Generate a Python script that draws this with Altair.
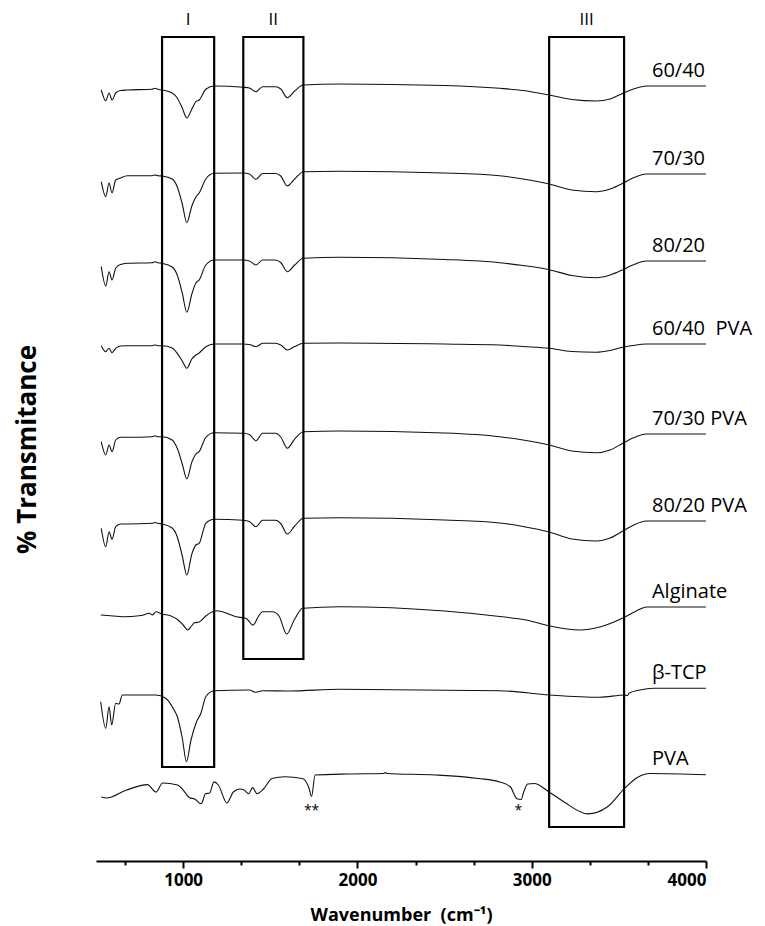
import altair as alt
import pandas as pd

# ---- FTIR spectra of the scaffolds, stacked with a vertical offset (a.u.) ----
SERIES = ["60/40", "70/30", "80/20", "60/40\u00a0\u00a0PVA", "70/30 PVA", "80/20 PVA",
          "Alginate", "β-TCP", "PVA"]
OFFSETS = [775, 687, 600, 517, 427, 340, 254, 173, 87]

# wavenumber grid (cm-1) shared by the six composite scaffolds
WN_COMPOSITE = [530, 556, 575, 592, 613, 640, 680, 822, 838, 855, 880, 937, 966, 995,
                1021, 1050, 1073, 1092, 1130, 1178, 1345, 1380, 1418, 1456, 1530, 1560,
                1598, 1640, 1690, 1900, 2500, 2816, 2950, 3100, 3230, 3371, 3450, 3523,
                3580, 3659, 4000]

# absorption depth below each trace's high-wavenumber plateau (a.u.)
DEPTH_60_40 = [4, 14.7, 7, 14, 7, 4.5, 4, 3.3, 2.3, 3.3, 4, 7, 12, 22, 32, 23, 15.7, 14,
               3.3, 0, 1.3, 2, 5.7, 0.7, 0.7, 3, 11.7, 5, -1, -2, -0.5, 2.3, 4.5, 9, 13.5,
               15, 13, 7.3, 3.3, 0, 0]
DEPTH_70_30 = [7.7, 22.7, 9, 19, 6, 4, 1.7, 1.7, 1, 1.7, 2, 5, 12.7, 30, 48.7, 32, 23, 19,
               5, -0.7, -1, 0, 5.3, -0.5, -0.5, 2, 12, 5, -2.3, -2.7, -1, 1.7, 5, 10, 16,
               17.7, 15, 9.3, 4, 0, 0]
DEPTH_80_20 = [5.7, 25, 10.7, 19, 7.3, 3.5, 2.3, 1.7, 0.7, 1.7, 2.3, 6, 14, 32, 51.3, 33,
               22, 19, 4, -1, -1, 0, 4, -1, -1, 1.5, 10.7, 4, -2.7, -3.7, -1.5, 1.7, 4.5,
               8.7, 14.5, 16.7, 14, 8.7, 4, 0, 0]
DEPTH_60_40_PVA = [1.7, 7.7, 4.3, 8.7, 4.3, 2, 1.7, 1.7, 1, 1.7, 1.7, 4, 9.3, 17, 24.3, 15,
                   11, 9, 2.7, 0, 0, 0.5, 2.7, -0.7, -0.7, 1, 6, 2.5, -0.7, -1, 0, 1, 2.5,
                   4.3, 7.5, 8.3, 6.5, 3.3, 1.5, 0, 0]
DEPTH_70_30_PVA = [7.7, 21, 11, 17.7, 6, 3.3, 3.3, 2.7, 1.7, 2.7, 2.7, 6, 14.3, 30, 45, 28,
                   20, 17.7, 3.3, -1.3, -0.7, 0.5, 6.7, -0.7, -0.7, 3, 14.3, 5, -2.3, -3,
                   -1, 2.7, 6, 11, 17, 18.7, 16, 9.3, 4, 0, 0]
DEPTH_80_20_PVA = [7.3, 25.7, 10.7, 18.3, 5.7, 3, 3, 2.3, 1.5, 2.3, 3, 7, 15.7, 35, 54, 33,
                   24, 22.3, 2.3, -1.7, -0.7, 0.5, 5.7, -0.7, -0.7, 2.5, 13, 5, -2.7, -3.3,
                   -1, 2, 5.5, 11, 18, 20, 17, 10, 4.5, 0, 0]

WN_ALGINATE = [527, 600, 651, 760, 805, 824, 843, 879, 930, 966, 1000, 1027, 1048, 1065,
               1092, 1130, 1188, 1226, 1303, 1360, 1402, 1430, 1456, 1513, 1550, 1594, 1640,
               1686, 1900, 2500, 2816, 2969, 3103, 3276, 3391, 3523, 3600, 3659, 4000]
DEPTH_ALGINATE = [8, 9, 9.7, 8.5, 6.3, 8, 4.7, 7, 9, 12.3, 18, 23, 19, 15.7, 15, 9, 3.7,
                  4.7, 9.7, 11.3, 18, 10, 4.7, 4.7, 9, 27, 12, 1.3, -0.3, 4, 9.5, 13, 19,
                  23, 20, 11, 4, 0, 0]

WN_TCP = [527, 556, 575, 590, 613, 632, 651, 843, 900, 948, 967, 995, 1019, 1045, 1077,
          1102, 1130, 1178, 1380, 1418, 1456, 1610, 1900, 2816, 3103, 3391, 3534, 3548,
          3560, 3620, 3700, 4000]
DEPTH_TCP = [13.7, 40.3, 18.7, 37, 15.3, 16, 7, 7, 10.3, 22, 28.7, 50, 73.7, 52, 33.7,
             25.3, 8.7, 2.7, 2, 4.3, 2.7, 3, 1.3, 2.7, 7, 9.3, 7, 7.6, 5, 2, 0.3, 0.3]

WN_PVA = [530, 560, 672, 795, 845, 882, 968, 990, 1037, 1066, 1104, 1128, 1152, 1177,
          1202, 1251, 1288, 1325, 1350, 1375, 1399, 1424, 1461, 1510, 1584, 1683, 1720,
          1737, 1757, 1950, 2150, 2160, 2170, 2447, 2693, 2817, 2878, 2915, 2940, 2952,
          2977, 3014, 3100, 3186, 3322, 3433, 3532, 3606, 3680, 4000]
DEPTH_PVA = [23, 24, 16.3, 10.6, 18, 9, 11, 14, 23.7, 25, 29.8, 19.7, 19, 7.9, 11, 29, 18,
             15, 16, 19.7, 13.6, 19.7, 15, 4.5, 2.8, 4.5, 13, 22.4, 1, 0, -0.5, -1.5,
             -0.5, 1, 4.5, 8, 13, 24.7, 25.5, 19, 10, 9.5, 18, 28, 39.9, 33, 14.6, 3.5,
             -0.5, 0.8]

TRACES = [
    (WN_COMPOSITE, DEPTH_60_40), (WN_COMPOSITE, DEPTH_70_30), (WN_COMPOSITE, DEPTH_80_20),
    (WN_COMPOSITE, DEPTH_60_40_PVA), (WN_COMPOSITE, DEPTH_70_30_PVA),
    (WN_COMPOSITE, DEPTH_80_20_PVA), (WN_ALGINATE, DEPTH_ALGINATE), (WN_TCP, DEPTH_TCP),
    (WN_PVA, DEPTH_PVA),
]

# highlighted bands: wavenumber range and vertical extent (a.u.)
BAND_NAMES = ["I", "II", "III"]
BAND_START = [879, 1345, 3100]
BAND_END = [1178, 1690, 3530]
BAND_LOW = [94, 202, 34]
BAND_HIGH = [824, 824, 824]

# marked PVA bands
MARK_TEXT = ["**", "*"]
MARK_WN = [1737, 2923]
MARK_LEVEL = [46, 46]

rows = []
for name, offset, (wn, depth) in zip(SERIES, OFFSETS, TRACES):
    for i, (w, d) in enumerate(zip(wn, depth)):
        rows.append({"series": name, "order": i, "wavenumber": w, "t": offset - d})
spectra = pd.DataFrame(rows)

labels = pd.DataFrame({"series": SERIES, "t": OFFSETS, "wavenumber": [3690] * len(SERIES)})
bands = pd.DataFrame({"band": BAND_NAMES, "wavenumber": BAND_START, "wn_end": BAND_END,
                      "t": BAND_LOW, "t_top": BAND_HIGH})
bands["wn_mid"] = (bands["wavenumber"] + bands["wn_end"]) / 2
marks = pd.DataFrame({"txt": MARK_TEXT, "wavenumber": MARK_WN, "t": MARK_LEVEL})

XDOM = [500, 4000]
YDOM = [0, 850]
TICKS = [666.667, 1000, 1333.333, 1666.667, 2000, 2333.333, 2666.667, 3000,
         3333.333, 3666.667, 4000]

xscale = alt.Scale(domain=XDOM, nice=False, zero=False)
yscale = alt.Scale(domain=YDOM, nice=False, zero=False)

x_axis = alt.Axis(
    values=TICKS, format="d",
    labelExpr="datum.value % 1000 === 0 ? datum.label : ''",
    tickSize={"condition": {"test": "datum.value % 1000 === 0", "value": 7}, "value": 4},
    tickWidth=2, tickColor="black", domainWidth=2, domainColor="black", grid=False,
    labelFont="Open Sans", labelFontWeight="bold", labelFontSize=17, labelColor="black",
    labelPadding=4,
    title="Wavenumber\u00a0\u00a0(cm⁻¹)", titleFont="Open Sans", titleFontWeight="bold",
    titleFontSize=18, titleColor="black", titleY=59, titleBaseline="alphabetic",
)
y_axis = alt.Axis(
    domain=False, ticks=False, labels=False, grid=False,
    title="% Transmitance", titleFont="Open Sans", titleFontWeight="bold",
    titleFontSize=26, titleColor="black", titleAngle=270, titleX=-61, titleY=438,
    titleAlign="center", titleBaseline="alphabetic",
)

X = alt.X("wavenumber:Q", scale=xscale, axis=x_axis)
Y = alt.Y("t:Q", scale=yscale, axis=y_axis)

lines = alt.Chart(spectra).mark_line(
    color="#111111", strokeWidth=1.1, interpolate="monotone"
).encode(x=X, y=Y, detail="series:N", order="order:Q")

boxes = alt.Chart(bands).mark_rect(
    fill=None, fillOpacity=0, stroke="black", strokeWidth=2.2
).encode(x=X, x2="wn_end:Q", y=Y, y2="t_top:Q")

band_text = alt.Chart(bands).mark_text(
    font="Open Sans", fontSize=17, color="black", baseline="alphabetic", dy=-12
).encode(
    x=alt.X("wn_mid:Q", scale=xscale, axis=x_axis),
    y=alt.Y("t_top:Q", scale=yscale, axis=y_axis),
    text="band:N",
)

series_text = alt.Chart(labels).mark_text(
    font="Open Sans", fontSize=20, color="black", align="left", baseline="alphabetic",
    dy=-9
).encode(x=X, y=Y, text="series:N")

mark_text = alt.Chart(marks).mark_text(
    font="Open Sans", fontSize=14, color="black", baseline="alphabetic"
).encode(x=X, y=Y, text="txt:N")

chart = alt.layer(lines, boxes, band_text, series_text, mark_text).properties(
    width=610, height=850,
    autosize=alt.AutoSizeParams(type="none"),
    padding={"left": 96, "top": 11, "right": 59, "bottom": 65},
    background="white",
).configure_view(stroke=None)

chart.save("out.html", embed_options={"renderer": "svg", "actions": False})
